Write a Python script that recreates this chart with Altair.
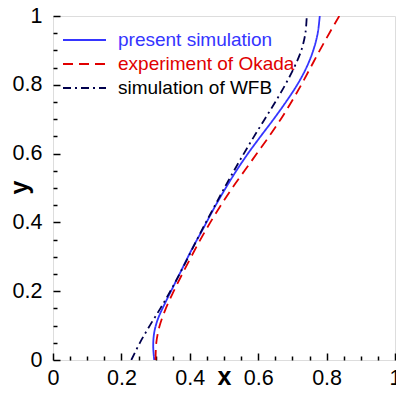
import altair as alt
import pandas as pd

SERIES = ["present simulation", "experiment of Okada", "simulation of WFB"]
LINE_COLORS = ["#3535ff", "#e00000", "#00004d"]
DASHES = [[1, 0], [10, 6], [8, 4, 2, 4]]

present_y = [0.0, 0.04, 0.08, 0.12, 0.17, 0.22, 0.27, 0.32, 0.38, 0.445,
             0.5, 0.55, 0.6, 0.65, 0.7, 0.75, 0.8, 0.85, 0.9, 0.95, 1.0]
present_x = [0.296, 0.293, 0.296, 0.307, 0.330, 0.355, 0.380, 0.405, 0.438, 0.473,
             0.505, 0.536, 0.570, 0.607, 0.645, 0.681, 0.714, 0.741, 0.761, 0.774, 0.780]

okada_y = [0.0, 0.05, 0.10, 0.15, 0.20, 0.25, 0.30, 0.35, 0.40, 0.45, 0.50,
           0.55, 0.60, 0.65, 0.70, 0.75, 0.80, 0.85, 0.90, 0.95, 1.0]
okada_x = [0.300, 0.302, 0.312, 0.330, 0.353, 0.378, 0.404, 0.431, 0.460, 0.491, 0.524,
           0.560, 0.596, 0.632, 0.666, 0.697, 0.726, 0.753, 0.780, 0.808, 0.837]

wfb_y = [0.0, 0.05, 0.10, 0.15, 0.20, 0.25, 0.30, 0.35, 0.40, 0.45, 0.50,
         0.55, 0.60, 0.65, 0.70, 0.75, 0.80, 0.85, 0.90, 0.95, 1.0]
wfb_x = [0.229, 0.254, 0.283, 0.314, 0.343, 0.370, 0.396, 0.421, 0.447, 0.474, 0.501,
         0.529, 0.558, 0.588, 0.619, 0.650, 0.679, 0.705, 0.726, 0.738, 0.742]

MAJOR_TICKS = [0, 0.2, 0.4, 0.6, 0.8, 1]
ALL_TICKS = [0, 0.05, 0.1, 0.15, 0.2, 0.25, 0.3, 0.35, 0.4, 0.45, 0.5,
             0.55, 0.6, 0.65, 0.7, 0.75, 0.8, 0.85, 0.9, 0.95, 1]

rows = []
for name, xs, ys in [(SERIES[0], present_x, present_y),
                     (SERIES[1], okada_x, okada_y),
                     (SERIES[2], wfb_x, wfb_y)]:
    for i, (xv, yv) in enumerate(zip(xs, ys)):
        rows.append({"series": name, "x": xv, "y": yv, "i": i})
df = pd.DataFrame(rows)

W, H = 342, 344
FONT = "Liberation Sans"

xscale = alt.Scale(domain=[0, 1], nice=False, zero=False)
yscale = alt.Scale(domain=[0, 1], nice=False, zero=False)

major_test = "abs(datum.value * 5 - round(datum.value * 5)) < 0.001"
tick_size = {"condition": {"test": major_test, "value": 7}, "value": 4}

label_color_expr = ("datum.label == 'present simulation' ? '#3535ff' : "
                    "datum.label == 'experiment of Okada' ? '#e00000' : '#000000'")

legend = alt.Legend(
    orient="none", legendX=9, legendY=14, title=None,
    symbolType="stroke", symbolSize=1849, symbolStrokeWidth=1.8,
    labelFont=FONT, labelFontSize=19, labelOffset=11,
    labelColor={"expr": label_color_expr},
    clipHeight=20, rowPadding=4, padding=0, labelLimit=0,
)

lines = alt.Chart(df).mark_line(strokeWidth=1.8, interpolate="catmull-rom", clip=True).encode(
    x=alt.X("x:Q", scale=xscale, axis=alt.Axis(
        orient="bottom", values=MAJOR_TICKS, ticks=False, domain=False, grid=False,
        format="~g", labelFont=FONT, labelFontSize=21.5, labelColor="black",
        labelPadding=7, labelFlush=False, labelOverlap=False,
        title="x", titleFont=FONT, titleFontSize=25, titleFontWeight="bold",
        titleColor="black", titleX=171, titleY=24, titleAlign="center",
        titleBaseline="alphabetic")),
    y=alt.Y("y:Q", scale=yscale, axis=alt.Axis(
        orient="left", values=MAJOR_TICKS, ticks=False, domain=False, grid=False,
        format="~g", labelFont=FONT, labelFontSize=21.5, labelColor="black",
        labelPadding=11, labelFlush=False, labelOverlap=False,
        title="y", titleFont=FONT, titleFontSize=25, titleFontWeight="bold",
        titleColor="black", titleX=-26, titleY=171, titleAngle=-90,
        titleAlign="center", titleBaseline="alphabetic")),
    color=alt.Color("series:N", scale=alt.Scale(domain=SERIES, range=LINE_COLORS), legend=legend),
    strokeDash=alt.StrokeDash("series:N", scale=alt.Scale(domain=SERIES, range=DASHES), legend=legend),
    order=alt.Order("i:Q"),
)

ticks = alt.Chart(df).mark_point(opacity=0).encode(
    x=alt.X("x:Q", scale=xscale, axis=alt.Axis(
        orient="top", offset=-H, values=ALL_TICKS, labels=False, domain=False,
        grid=False, ticks=True, tickSize=tick_size, tickColor="black",
        tickWidth=1.5, title=None)),
    y=alt.Y("y:Q", scale=yscale, axis=alt.Axis(
        orient="right", offset=-W, values=ALL_TICKS, labels=False, domain=False,
        grid=False, ticks=True, tickSize=tick_size, tickColor="black",
        tickWidth=1.5, title=None)),
)

chart = alt.layer(lines, ticks).resolve_axis(x="independent", y="independent").properties(
    width=W, height=H,
    autosize=alt.AutoSizeParams(type="none"),
    padding={"left": 45, "top": 8, "right": 1, "bottom": 28},
).configure_view(stroke="black", strokeWidth=2).configure(background="white")

chart.save("out.html", embed_options={"renderer": "svg", "actions": False})
